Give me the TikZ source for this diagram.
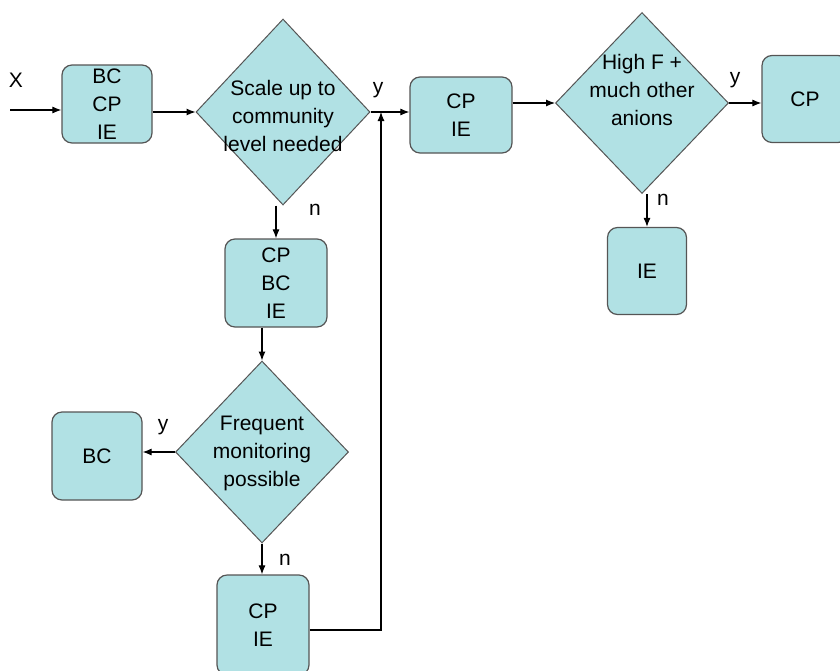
\documentclass[tikz,border=0pt]{standalone}
\usepackage{fontspec}
\setmainfont{Liberation Sans}
\usepackage{xcolor}
\usetikzlibrary{shapes.geometric,arrows.meta}
\definecolor{boxfill}{RGB}{177,225,228}
\definecolor{boxline}{RGB}{85,85,85}

\begin{document}
\begin{tikzpicture}[x=1pt, y=-1pt,
    every node/.style = {font=\fontsize{21}{28}\selectfont},
    box/.style = {draw=boxline, fill=boxfill, line width=1.2pt, rounded corners=10pt, align=center, inner sep=0pt},
    decision/.style = {diamond, draw=boxline, fill=boxfill, line width=1pt, inner sep=0pt},
    arr/.style = {-{Latex[length=9pt,width=7pt]}, line width=1.1pt}]
    \useasboundingbox (0,0) rectangle (840,670);

    % Boxes
    \node[box, minimum width=90pt, minimum height=78pt] (b1) at (107,104) {BC\\CP\\IE};
    \node[box, minimum width=102pt, minimum height=76pt] (b2) at (461,115) {CP\\IE};
    \node[box, minimum width=86pt, minimum height=87pt] (b3) at (805,99) {CP};
    \node[box, minimum width=79pt, minimum height=87pt] (b4) at (647,271) {IE};
    \node[box, minimum width=102pt, minimum height=88pt] (b5) at (276,283) {CP\\BC\\IE};
    \node[box, minimum width=90pt, minimum height=88pt] (b6) at (97,456) {BC};
    \node[box, minimum width=92pt, minimum height=100pt] (b7) at (263,625) {CP\\IE};

    % Decisions
    \node[decision, minimum width=174pt, minimum height=186pt] (d1) at (283,112) {};
    \node[align=center] (d1t) at (283,116) {Scale up to\\community\\level needed};
    \node[decision, minimum width=173pt, minimum height=181pt] (d2) at (642,103) {};
    \node[align=center] (d2t) at (642,90) {High F +\\much other\\anions};
    \node[decision, minimum width=173pt, minimum height=182pt] (d3) at (262,452) {};
    \node[align=center] (d3t) at (262,453) {Frequent\\monitoring\\possible};

    % Input
    \coordinate (in) at (10,110);
    \node (x) at (16,80) {X};
    \draw[arr] (in) -- (in -| b1.west);
    \draw[arr] (b1.east |- d1.west) -- (d1.west);

    % Top row
    \coordinate (j) at (381,112);
    \coordinate (jb) at (381,630);
    \draw[arr] (d1.east) -- (d1.east -| b2.west);
    \node (y1) at (378,90) {y};
    \draw[arr] (b2.east |- d2.west) -- (d2.west);
    \draw[arr] (d2.east) -- (d2.east -| b3.west);
    \node (y2) at (735,80) {y};
    \draw[arr] (b4.north |- d2.south) -- (b4.north);
    \node (n2) at (663,200) {n};

    % Down the left side
    \draw[arr] (b5.north |- d1.south) -- (b5.north);
    \node (n1) at (315,210) {n};
    \draw[arr] (b5.south -| d3.north) -- (d3.north);
    \draw[arr] (d3.west) -- (d3.west -| b6.east);
    \node (y3) at (163,427) {y};
    \draw[arr] (d3.south) -- (d3.south |- b7.north);
    \node (n3) at (285,560) {n};

    % Loop back up
    \draw[arr] (b7.east |- jb) -- (jb) -- (j);
\end{tikzpicture}
\end{document}
